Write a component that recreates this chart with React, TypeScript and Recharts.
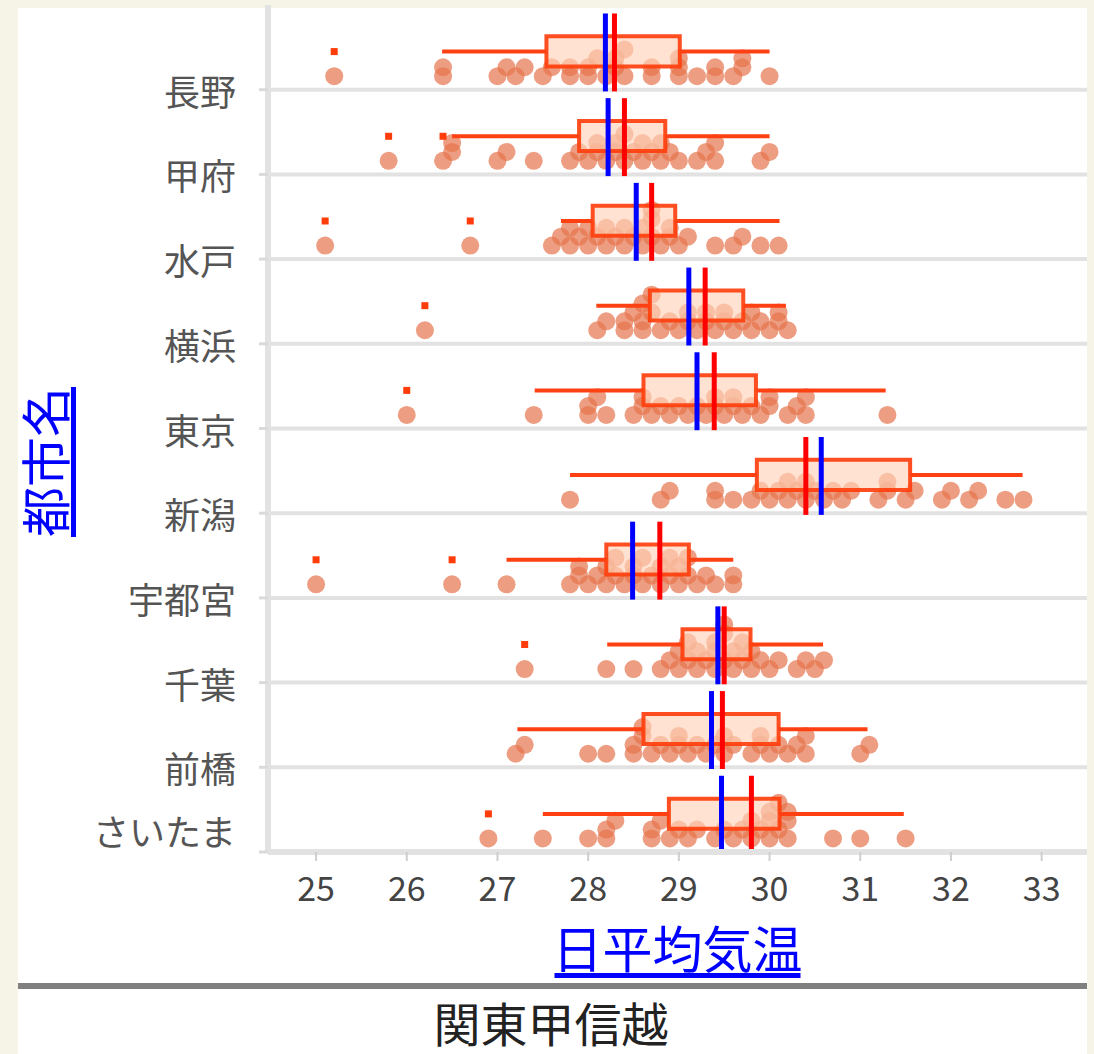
import React from "react";
import {
  ScatterChart,
  Scatter,
  XAxis,
  YAxis,
  ReferenceArea,
  ReferenceLine,
} from "recharts";

const CJK = "'Noto Sans CJK JP', 'Noto Sans', sans-serif";

const cities = ["長野", "甲府", "水戸", "横浜", "東京", "新潟", "宇都宮", "千葉", "前橋", "さいたま"];

// daily mean temperatures per city
const nagano = [25.2, 26.4, 26.4, 27.0, 27.1, 27.2, 27.3, 27.5, 27.6, 27.8, 27.8, 28.0, 28.0, 28.1, 28.2, 28.3, 28.3, 28.4, 28.4, 28.7, 28.7, 29.0, 29.0, 29.0, 29.2, 29.4, 29.4, 29.6, 29.7, 29.7, 30.0];
const kofu = [25.8, 26.4, 26.5, 26.5, 27.0, 27.1, 27.4, 27.8, 27.9, 28.0, 28.1, 28.1, 28.2, 28.3, 28.3, 28.4, 28.4, 28.5, 28.6, 28.6, 28.7, 28.8, 28.8, 28.9, 29.0, 29.2, 29.3, 29.4, 29.4, 29.9, 30.0];
const mito = [25.1, 26.7, 27.6, 27.7, 27.8, 27.8, 27.9, 28.0, 28.0, 28.1, 28.2, 28.2, 28.3, 28.4, 28.4, 28.5, 28.6, 28.6, 28.7, 28.7, 28.7, 28.8, 28.9, 28.9, 29.0, 29.1, 29.4, 29.6, 29.7, 29.9, 30.1];
const yokohama = [26.2, 28.1, 28.2, 28.4, 28.4, 28.5, 28.6, 28.6, 28.6, 28.7, 28.7, 28.8, 28.9, 29.0, 29.1, 29.1, 29.2, 29.3, 29.3, 29.4, 29.5, 29.5, 29.6, 29.7, 29.8, 29.8, 29.9, 30.0, 30.1, 30.1, 30.2];
const tokyo = [26.0, 27.4, 28.0, 28.0, 28.1, 28.2, 28.5, 28.6, 28.6, 28.7, 28.8, 28.9, 29.0, 29.1, 29.2, 29.3, 29.4, 29.4, 29.5, 29.6, 29.6, 29.7, 29.8, 29.9, 30.0, 30.0, 30.2, 30.3, 30.4, 30.4, 31.3];
const niigata = [27.8, 28.8, 28.9, 29.4, 29.4, 29.6, 29.8, 29.9, 30.0, 30.1, 30.2, 30.2, 30.3, 30.4, 30.4, 30.5, 30.6, 30.7, 30.8, 30.9, 31.2, 31.3, 31.3, 31.5, 31.6, 31.9, 32.0, 32.2, 32.3, 32.6, 32.8];
const utsunomiya = [25.0, 26.5, 27.1, 27.8, 27.9, 27.9, 28.0, 28.1, 28.2, 28.2, 28.3, 28.3, 28.4, 28.5, 28.5, 28.6, 28.6, 28.7, 28.8, 28.8, 28.9, 28.9, 29.0, 29.0, 29.1, 29.1, 29.2, 29.3, 29.4, 29.6, 29.6];
const chiba = [27.3, 28.2, 28.5, 28.8, 28.9, 29.0, 29.0, 29.1, 29.1, 29.2, 29.2, 29.3, 29.4, 29.4, 29.4, 29.5, 29.5, 29.5, 29.6, 29.6, 29.7, 29.7, 29.8, 29.8, 29.9, 30.0, 30.1, 30.3, 30.4, 30.5, 30.6];
const maebashi = [27.2, 27.3, 28.0, 28.2, 28.5, 28.5, 28.6, 28.6, 28.7, 28.8, 28.9, 29.0, 29.0, 29.1, 29.2, 29.3, 29.4, 29.5, 29.5, 29.6, 29.8, 29.9, 29.9, 30.0, 30.1, 30.2, 30.3, 30.4, 30.4, 31.0, 31.1];
const saitama = [26.9, 27.5, 28.0, 28.2, 28.2, 28.3, 28.7, 28.7, 28.8, 28.9, 29.0, 29.1, 29.2, 29.4, 29.5, 29.6, 29.7, 29.8, 29.8, 29.9, 30.0, 30.0, 30.0, 30.1, 30.1, 30.2, 30.2, 30.2, 30.7, 31.0, 31.5];

const temps = [nagano, kofu, mito, yokohama, tokyo, niigata, utsunomiya, chiba, maebashi, saitama];

// box plot stats as drawn
const q1 = [27.54, 27.9, 28.05, 28.68, 28.61, 29.86, 28.2, 29.04, 28.61, 28.89];
const medians = [28.29, 28.4, 28.7, 29.29, 29.39, 30.4, 28.79, 29.5, 29.48, 29.8];
const q3 = [29.01, 28.85, 28.96, 29.71, 29.85, 31.55, 29.11, 29.79, 30.1, 30.11];
const means = [28.19, 28.22, 28.53, 29.11, 29.2, 30.57, 28.49, 29.43, 29.36, 29.47];
const whiskerLow = [26.39, 26.5, 27.7, 28.09, 27.41, 27.8, 27.1, 28.21, 27.22, 27.5];
const whiskerHigh = [30.0, 30.0, 30.11, 30.18, 31.28, 32.79, 29.6, 30.59, 31.08, 31.48];
const outliers = [[25.2], [25.8, 26.4], [25.1, 26.7], [26.2], [26.0], [], [25.0, 26.5], [27.3], [], [26.9]];

const xTicks = [25, 26, 27, 28, 29, 30, 31, 32, 33];
const cityTicks = [1, 2, 3, 4, 5, 6, 7, 8, 9, 10];

// offsets inside a band (band units, measured up from the band's bottom line)
const DOT_BASE = 0.16;
const DOT_STEP = 0.105;
const DOT_GAP = 0.12;
const WHISKER = 0.45;
const BOX_LO = 0.275;
const BOX_HI = 0.63;

// simple beeswarm: push a dot up a level while it collides with one already there
function swarm(values: number[], band: number) {
  const levels: number[][] = [];
  return [...values]
    .sort((a, b) => a - b)
    .map((v) => {
      let lv = 0;
      while ((levels[lv] = levels[lv] || []).some((u) => Math.abs(u - v) < DOT_GAP)) lv++;
      levels[lv].push(v);
      return { x: v, y: band + 1 - DOT_BASE - lv * DOT_STEP };
    });
}

const dots = temps.flatMap((vals, i) => swarm(vals, i));
const outlierMarks = outliers.flatMap((vals, i) => vals.map((v) => ({ x: v, y: i + 1 - WHISKER })));

const Dot = (p: any) => <circle cx={p.cx} cy={p.cy} r={9} fill="#e6744c" fillOpacity={0.7} />;
const Mark = (p: any) => <rect x={p.cx - 3.5} y={p.cy - 3.5} width={7} height={7} fill="#ff3c0a" />;

const CityTick = ({ x, y, payload }: any) => {
  const i = payload.value - 1;
  const last = i === cities.length - 1;
  return (
    <text x={x - 21} y={last ? y - 22 : y} dominantBaseline="central" textAnchor="end" fontSize={36} fill="#555" fontFamily={CJK}>
      {cities[i]}
    </text>
  );
};

const TempTick = ({ x, y, payload }: any) => (
  <text x={x} y={y + 23} dominantBaseline="central" textAnchor="middle" fontSize={34} fill="#444" fontFamily={CJK}>
    {payload.value}
  </text>
);

const XLabel = ({ viewBox }: any) => {
  const cx = viewBox.x + viewBox.width / 2;
  const y = viewBox.y + 116;
  return (
    <g>
      <text x={cx} y={y} textAnchor="middle" fontSize={50} fill="#0000ff" fontFamily={CJK}>
        日平均気温
      </text>
      <rect x={cx - 123} y={y + 5} width={246} height={5} fill="#0000ff" />
    </g>
  );
};

const YLabel = () => (
  <g transform="translate(49, 462) rotate(-90)">
    <text x={0} y={16} textAnchor="middle" fontSize={50} fill="#0000ff" fontFamily={CJK}>
      都市名
    </text>
    <rect x={-75} y={22} width={150} height={5} fill="#0000ff" />
  </g>
);

export default function App() {
  return (
    <div style={{ position: "absolute", left: 0, top: 0, width: 1094, height: 1054, background: "#f6f4e6", overflow: "hidden" }}>
      <div style={{ position: "absolute", left: 18, top: 8, width: 1069, height: 1046, background: "#fff" }} />
      <div style={{ position: "absolute", left: 0, top: 0 }}>
        <ScatterChart width={1094} height={1054} margin={{ top: 5, right: 7, bottom: 0, left: 0 }}>
          <XAxis
            type="number"
            dataKey="x"
            domain={[24.47, 33.5]}
            ticks={xTicks}
            height={202}
            axisLine={{ stroke: "#e2e2e2", strokeWidth: 6 }}
            tickLine={{ stroke: "#cfcfcf", strokeWidth: 2 }}
            tickSize={9}
            tick={<TempTick />}
            label={{ content: <XLabel /> }}
          />
          <YAxis
            type="number"
            dataKey="y"
            domain={[0, 10]}
            reversed
            ticks={cityTicks}
            width={268}
            axisLine={{ stroke: "#e2e2e2", strokeWidth: 6 }}
            tickLine={{ stroke: "#dadada", strokeWidth: 3 }}
            tickSize={9}
            tick={<CityTick />}
            label={{ content: <YLabel /> }}
          />
          {cityTicks.slice(0, -1).map((t) => (
            <ReferenceLine key={"sep" + t} y={t} stroke="#e2e2e2" strokeWidth={4} zIndex={100} />
          ))}
          <Scatter data={dots} shape={Dot} isAnimationActive={false} zIndex={150} />
          {cities.map((c, i) => (
            <ReferenceArea
              key={"box" + c}
              x1={q1[i]}
              x2={q3[i]}
              y1={i + 1 - BOX_HI}
              y2={i + 1 - BOX_LO}
              fill="#ffd3b8"
              fillOpacity={0.65}
              stroke="#ff3c0a"
              strokeWidth={4}
              strokeOpacity={0.9}
              ifOverflow="visible"
              zIndex={250}
            />
          ))}
          {cities.map((c, i) => (
            <ReferenceLine
              key={"wl" + c}
              segment={[{ x: whiskerLow[i], y: i + 1 - WHISKER }, { x: q1[i], y: i + 1 - WHISKER }]}
              stroke="#ff4012"
              strokeWidth={4}
              ifOverflow="visible"
              zIndex={260}
            />
          ))}
          {cities.map((c, i) => (
            <ReferenceLine
              key={"wh" + c}
              segment={[{ x: q3[i], y: i + 1 - WHISKER }, { x: whiskerHigh[i], y: i + 1 - WHISKER }]}
              stroke="#ff4012"
              strokeWidth={4}
              ifOverflow="visible"
              zIndex={260}
            />
          ))}
          {cities.map((c, i) => (
            <ReferenceLine
              key={"mean" + c}
              segment={[{ x: means[i], y: i + 0.1 }, { x: means[i], y: i + 1.02 }]}
              stroke="#0000ff"
              strokeWidth={5}
              ifOverflow="visible"
              zIndex={270}
            />
          ))}
          {cities.map((c, i) => (
            <ReferenceLine
              key={"med" + c}
              segment={[{ x: medians[i], y: i + 0.1 }, { x: medians[i], y: i + 1.02 }]}
              stroke="#ff0000"
              strokeWidth={5}
              ifOverflow="visible"
              zIndex={271}
            />
          ))}
          <Scatter data={outlierMarks} shape={Mark} isAnimationActive={false} zIndex={280} />
        </ScatterChart>
      </div>
      <svg width={1094} height={1054} style={{ position: "absolute", left: 0, top: 0, pointerEvents: "none" }}>
        <rect x={18} y={983} width={1069} height={6} fill="#808080" />
        <text x={551} y={1042} textAnchor="middle" fontSize={47} fill="#222" fontFamily={CJK}>
          関東甲信越
        </text>
      </svg>
    </div>
  );
}
